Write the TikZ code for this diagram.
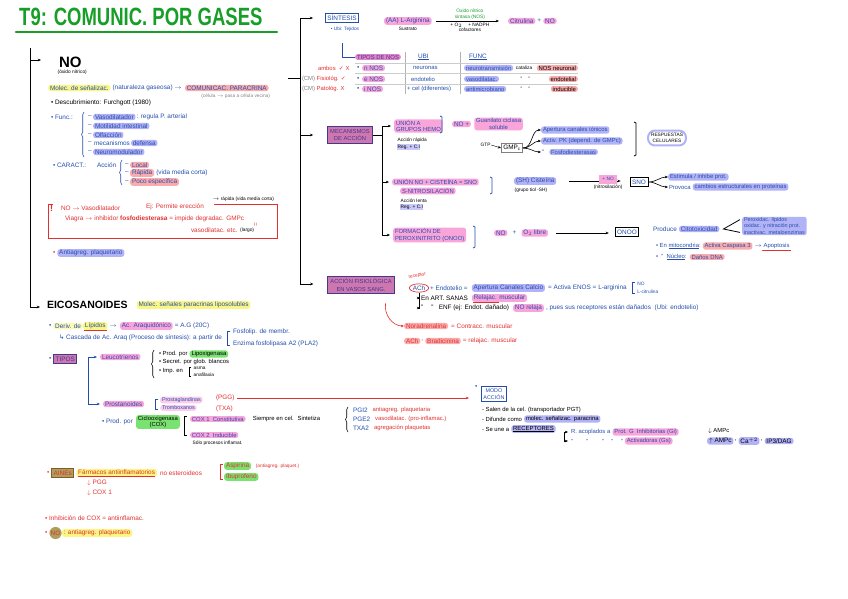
\documentclass[tikz,border=0pt]{standalone}
\usepackage{fontspec}
\setmainfont{Liberation Sans}
\newfontfamily\symf{DejaVu Sans}
\usetikzlibrary{positioning, arrows.meta, calc, decorations.pathreplacing, shapes.geometric}

\definecolor{titgreen}{RGB}{22,158,38}
\definecolor{ink}{RGB}{36,78,172}
\definecolor{inkred}{RGB}{226,48,48}
\definecolor{hpink}{RGB}{250,165,218}
\definecolor{hsalm}{RGB}{250,172,172}
\definecolor{hlav}{RGB}{178,178,246}
\definecolor{hyel}{RGB}{250,246,132}
\definecolor{hgrn}{RGB}{122,226,112}
\definecolor{hmauve}{RGB}{206,118,176}
\definecolor{hmauve2}{RGB}{226,132,204}
\definecolor{boxedge}{RGB}{66,58,138}
\definecolor{holive}{RGB}{172,160,92}

\begin{document}
\begin{tikzpicture}[x=1pt, y=-1pt,
  tx/.style={font=\fontsize{6.4}{7.2}\selectfont, inner sep=0.8pt, anchor=west, text=ink},
  tt/.style={font=\fontsize{5.9}{6.6}\selectfont},
  bk/.style={tx, text=black},
  rd/.style={tx, text=inkred},
  sm/.style={font=\fontsize{4.8}{5.6}\selectfont, inner sep=0.5pt, anchor=west, text=black},
  hl/.style={tx, fill=#1, rounded corners=2.5pt, inner xsep=1.8pt},
  hl/.default=hpink,
  bigbox/.style={draw=boxedge, line width=1pt, fill=hmauve, text=boxedge, align=center,
    font=\fontsize{5.8}{7.4}\selectfont, inner sep=2.5pt},
  tagbox/.style={draw, line width=0.8pt, font=\fontsize{6.4}{7.2}\selectfont, text=ink, inner sep=2pt},
  arr/.style={-{Stealth[length=3.2pt, width=2.6pt]}, line width=0.6pt},
  brk/.style={line width=0.7pt},
  brc/.style={decorate, decoration={brace, amplitude=2.5pt}, line width=0.6pt}
]
\useasboundingbox (0,0) rectangle (848,599);

% title
\node[anchor=west, inner sep=0, text=titgreen, font=\fontsize{18.5}{19}\selectfont\bfseries] (ttl) at (19,17) {\scalebox{1}[1.35]{T9: COMUNIC. POR GASES}};
\draw[titgreen, line width=2.4pt, line cap=round] (16,32) -- (277,32);

% left spine
\coordinate (sp0) at (30,48);
\coordinate (noin) at (41,60);
\coordinate (eiin) at (40,307);
\draw[arr] (sp0) |- (eiin);
\draw[arr] (sp0 |- noin) -- (noin);

% NO
\node[bk, font=\fontsize{15}{15}\selectfont\bfseries] (no) at (58,62) {NO};
\node[sm] (nosub) at (57,72) {(óxido nítrico)};
\node[hl=hyel] (m1) at (48,88) {Molec. de señalizac.};
\node[tx, right=1pt of m1] (m2) {(naturaleza gaseosa) $\to$};
\node[hl=hsalm, right=2pt of m2] (m3) {COMUNICAC. PARACRINA};
\node[sm, text=gray, anchor=east] (m4) at ($(m3.south east)+(2,5)$) {(célula $\to$ pasa a célula vecina)};
\node[bk] (desc) at (50,103) {• Descubrimiento: Furchgott (1980)};

\node[tx] (fn) at (50,117) {• Func.:};
\draw[brc, ink] (84,157) -- (84,112);
\node[tx] (d1) at (87,117) {–};
\node[hl=hlav] (f1) at (93,117) {Vasodilatador};
\node[tx, right=0pt of f1] (f1b) {: regula P. arterial};
\node[tx] (d2) at (87,126) {–};
\node[hl=hlav] (f2) at (93,126) {Motilidad intestinal};
\node[tx] (d3) at (87,135) {–};
\node[hl=hlav] (f3) at (93,135) {Olfacción};
\node[tx] (d4) at (87,143) {–};
\node[tx] (f4a) at (93,143) {mecanismos};
\node[hl=hlav, right=0pt of f4a] (f4) {defensa};
\node[tx] (d5) at (87,152) {–};
\node[hl=hlav] (f5) at (93,152) {Neuromodulador};

\node[tx] (ca) at (52,165) {• CARACT.:};
\node[tx] (ac) at (96,165) {Acción};
\draw[brc, ink] (122,185) -- (122,160);
\node[tx] (c1d) at (124,165) {–};
\node[hl=hsalm] (c1) at (130,165) {Local};
\node[tx] (c2d) at (124,173) {–};
\node[hl=hsalm] (c2) at (130,173) {Rápida};
\node[tx, right=1pt of c2] (c2b) {(vida media corta)};
\node[tx] (c3d) at (124,182) {–};
\node[hl=hsalm] (c3) at (130,182) {Poco específica};

% red box
\draw[inkred, line width=0.8pt] (53,204) -- (48,204) -- (48,238) -- (277,238) -- (277,204) -- (214,204);
\node[rd, font=\fontsize{9}{9}\selectfont\bfseries] (ex) at (49,208) {!};
\node[rd] (r1) at (60,208) {NO $\to$ Vasodilatador};
\node[rd] (r2) at (145,207) {Ej: Permite erección};
\node[sm] (r3) at (212,199) {$\to$ rápida (vida media corta)};
\node[rd] (r4) at (64,219) {Viagra $\to$ inhibidor \textbf{fosfodiesterasa} = impide degradac. GMPc};
\node[rd, rotate=90, anchor=center] (r5) at (256,225) {=};
\node[rd] (r6) at (190,230) {vasodilatac. etc.};
\node[sm, right=1pt of r6] (r7) {(largo)};
\node[rd] (ab) at (52,253) {•};
\node[hl=hlav, right=1pt of ab] (agp) {Antiagreg. plaquetario};

% right spine
\coordinate (rs0) at (300,20);
\coordinate (rs1) at (300,284);
\coordinate (ntick) at (288,78);
\draw (ntick) -- (ntick -| rs1);
\node[tagbox, draw=ink, anchor=center] (sint) at (342,18) {SÍNTESIS};
\node[sm, text=ink, anchor=center] (ubi) at (345,29) {• Ubi: Tejidos};
\draw[arr, shorten >=12pt] (rs1) |- (sint.west);

\node[hl=hpink] (larg) at (384,21) {(AA) L-Arginina};
\node[sm, anchor=center] (sust) at ($(larg.south)+(0,4)$) {Sustrato};
\node[hl=hpink] (citr) at (508,21) {Citrulina};
\node[tx, right=1pt of citr] (pl1) {+};
\node[hl=hpink, right=1pt of pl1] (no2) {NO};
\draw[arr, shorten <=4pt, shorten >=9pt] (larg.east) -- (larg.east -| citr.west)
  node[midway, above=1pt, sm, text=titgreen, align=center, anchor=south] (nos) {Óxido nítrico\\sintasa (NOS)}
  node[midway, below=1pt, sm, align=center, anchor=north] (cof) {+ O$_2$ \quad + NADPH\\cofactores};

% tipos de NOS
\coordinate (t0) at (342,43);
\node[hl=hmauve2, text=boxedge, tt] (tipos) at (355,57) {TIPOS DE NOS};
\draw[ink, line width=0.7pt] (t0) |- (tipos.west);
\node[tx] (hubi) at (417,57) {\underline{UBI}};
\node[tx] (hfun) at (468,57) {\underline{FUNC}};
\draw[gray!60, line width=0.5pt] (405,52) -- (405,94);
\draw[gray!60, line width=0.5pt] (460,52) -- (460,94);
\draw[gray!40, line width=0.5pt] (355,63) -- (578,63);
\draw[gray!40, line width=0.5pt] (355,73.5) -- (578,73.5);
\draw[gray!40, line width=0.5pt] (355,84) -- (578,84);

\node[rd, tt] (lk1) at (317,68) {ambos \ {\symf ✓} X};
\node[rd, tt] (lk2) at (301,79) {{\color{gray}(CM)} Fisiológ. {\symf ✓}};
\node[rd, tt] (lk3) at (301,89) {{\color{gray}(CM)} Patológ. X};
\node[tx] (b1) at (356,68) {•};
\node[hl=hpink] (n1) at (362,68) {n NOS};
\node[tx] (b2) at (356,79) {•};
\node[hl=hpink] (n2) at (362,79) {e NOS};
\node[tx] (b3) at (356,89) {•};
\node[hl=hpink] (n3) at (362,89) {i NOS};
\node[tx, tt] (u1t) at (412,68) {neuronas};
\node[tx, tt] (u2t) at (410,79) {endotelio};
\node[tx, tt] (u3t) at (406,89) {+ cel (diferentes)};
\node[hl=hlav, tt] (g1) at (464,68) {neurotransmisión};
\node[hl=hlav, tt] (g2) at (464,79) {vasodilatac.};
\node[hl=hlav, tt] (g3) at (464,89) {antimicrobiano};
\node[sm, right=2pt of g1] (k1a) {cataliza};
\node[sm] (k2a) at (520,79) {'' \quad ''};
\node[sm] (k3a) at (520,89) {'' \quad ''};
\node[hl=hsalm, text=black, tt, anchor=east] (k1) at (578,68) {NOS neuronal};
\node[hl=hsalm, text=black, tt, anchor=east] (k2) at (578,79) {endotelial};
\node[hl=hsalm, text=black, tt, anchor=east] (k3) at (578,89) {inducible};

% mecanismos de accion
\node[bigbox] (meca) at (350,135) {MECANISMOS\\DE ACCIÓN};
\draw[arr, shorten >=14pt] (rs1 |- meca.west) -- (meca.west);
\coordinate (mb) at (382,0);
\node[hl=hpink, align=left, tt] (u1) at (394,126) {UNIÓN A\\GRUPOS HEMO};
\node[hl=hpink, tt] (u2) at (392,182) {UNIÓN NO + CISTEÍNA = SNO};
\node[hl=hpink, align=left, tt] (u3) at (393,235) {FORMACIÓN DE\\PEROXINITRITO (ONOO)};
\draw[brk] (meca.east) -- (meca.east -| mb);
\draw[brk] (u1.west -| mb) -- (u3.west -| mb);
\draw[arr, shorten >=3pt] (u1.west -| mb) -- (u1.west);
\draw[arr, shorten >=3pt] (u2.west -| mb) -- (u2.west);
\draw[arr, shorten >=3pt] (u3.west -| mb) -- (u3.west);

\node[sm] (u1a) at (397,140) {Acción rápida};
\node[sm, fill=hlav!70] (u1b) at (397,147) {Reg. + C.I};
\draw[brk, ink] (440,116) -- (442,117) -- (442,132) -- (440,133);
\node[hl=hpink] (gc0) at (452,124) {NO +};
\node[hl=hpink, align=center, tt, right=3pt of gc0] (gc) {Guanilato ciclasa\\soluble};
\node[sm] (gtp) at (480,145) {GTP};
\node[draw=gray, line width=1pt, bk, anchor=center, inner sep=1.8pt] (gmpc) at (512,148) {GMP$_\mathrm{c}$};
\draw[arr, line width=0.4pt] (gtp.east) -- (gmpc.west);
\node[hl=hlav, tt] (a1) at (541,130) {Apertura canales iónicos};
\node[hl=hlav, tt] (a2) at (541,141) {Activ. PK (depend. de GMPc)};
\node[tx] (a3d) at (541,152) {''};
\node[hl=hlav, tt, right=4pt of a3d] (a3) {Fosfodiesterasas};
\draw[arr] (gmpc.east) to[out=0, in=180] (a1.west);
\draw[arr] (gmpc.east) to[out=0, in=180] (a2.west);
\draw[arr] (gmpc.east) to[out=0, in=180] (a3d.west);
\draw[brk] (634,122) -- (636,123) -- (636,155) -- (634,156);
\node[draw=hlav, line width=2pt, rounded corners=7pt, align=center, font=\fontsize{4.8}{5.6}\selectfont, inner sep=3pt] (resp) at (667,138) {RESPUESTAS\\CELULARES};

\node[hl=hpink, tt] (u2b) at (400,191) {S-NITROSILACIÓN};
\node[sm] (u2c) at (400,201) {Acción lenta};
\node[sm, fill=hlav!70] (u2d) at (400,207) {Reg. + C.I};
\draw[brk, ink] (490,177) -- (492,178) -- (492,193) -- (490,194);
\node[hl=hlav] (cis) at (514,181) {(SH) Cisteína};
\node[sm] (cis2) at (514,190) {(grupo tiol -SH)};
\node[tagbox, anchor=center] (sno) at (639,182) {SNO};
\draw[arr, shorten <=13pt, shorten >=9pt] (cis.east) -- (cis.east -| sno.west)
  node[midway, below=1pt, anchor=north, align=center, sm] (nitr) {\colorbox{hpink}{\textcolor{ink}{+ NO}}\\(nitrosilación)};
\node[hl=hlav, tt] (e1) at (668,177) {Estimula / inhibe prot.};
\node[tx, tt] (e2a) at (668,187) {Provoca};
\node[hl=hlav, tt, right=1pt of e2a] (e2) {cambios estructurales en proteínas};
\draw[arr] (sno.east) to[out=0, in=180] (e1.west);
\draw[arr] (sno.east) to[out=0, in=180] (e2a.west);

\draw[brk, ink] (473,226) -- (475,227) -- (475,247) -- (473,248);
\node[hl=hpink] (p1) at (494,233) {NO};
\node[tx, right=4pt of p1] (p2) {+};
\node[hl=hpink, right=4pt of p2] (p3) {O$_2$ libre};
\node[tagbox, anchor=center] (onoo) at (627,232) {ONOO};
\draw[arr, shorten <=8pt, shorten >=6pt] (p3.east) -- (p3.east -| onoo.west);
\node[tx] (prod) at (652,229) {Produce};
\node[hl=hlav, right=1pt of prod] (cito) {Citotoxicidad};
\node[hl=hlav, align=left, font=\fontsize{5.4}{6.4}\selectfont] (perox) at (742,226) {Peroxidac. lípidos\\oxidac. y nitración prot.\\inactivac. metaloenzimas};
\draw[line width=0.8pt] ($(perox.north west)+(-2,3)$) -- ($(cito.east)+(4,0)$) -- ($(perox.south west)+(-2,-3)$);
\node[tx, tt] (mi0) at (655,246) {• En \underline{mitocondria}:};
\node[hl=hsalm, tt, right=1pt of mi0] (casp) {Activa Caspasa 3};
\node[tx, tt, right=1pt of casp] (apo) {$\to$ Apoptosis};
\draw[inkred, line width=1.2pt, line cap=round] ($(apo.south west)+(9,1)$) -- ($(apo.south east)+(0,1)$);
\node[tx, tt] (nu0) at (655,257) {• \ '' \ \underline{Núcleo}:};
\node[hl=hsalm, tt, right=2pt of nu0] (dna) {Daños DNA};

% accion fisiologica
\node[bigbox] (acc) at (361,285) {ACCIÓN FISIOLÓGICA\\EN VASOS SANG.};
\draw[arr, shorten >=14pt] (rs1) -- (rs1 -| acc.west);
\node[tx, ellipse, draw=inkred, line width=0.7pt, inner sep=0.6pt] (ach) at (409,288) {ACh};
\node[sm, text=inkred, rotate=12] (recp) at (408,278) {receptor};
\node[tx, right=0pt of ach] (ach2) {+ Endotelio =};
\node[hl=hlav, right=3pt of ach2] (calc) {Apertura Canales Calcio};
\node[tx, right=2pt of calc] (enos) {= Activa ENOS = L-arginina};
\coordinate (bn) at ($(enos.east)+(5,0)$);
\draw[brk, ink] ($(bn)+(2,-6)$) -- ($(bn)+(0,-6)$) -- ($(bn)+(0,5)$) -- ($(bn)+(2,5)$);
\node[sm, text=ink] (nol1) at ($(bn)+(4,-4)$) {NO};
\node[sm, text=ink] (nol2) at ($(bn)+(4,4)$) {L-citrulina};
\node[bk] (sa) at (420,298) {En ART. SANAS};
\node[hl=hpink, right=3pt of sa] (rel) {Relajac. muscular};
\draw[inkred, line width=1pt] ($(rel.south west)+(1,0.3)$) -- ++(26,0);
\node[bk] (enf) at (420,308) {'' \quad '' \ \ ENF (ej: Endot. dañado)};
\node[hl=hpink, right=3pt of enf] (nore) {NO relaja};
\node[tx, right=1pt of nore] (pues) {, pues sus receptores están dañados \ (Ubi: endotelio)};
\draw[arr] (ach.south) |- (sa.west);
\draw[arr] (ach.south) |- (enf.west);

\node[hl=hsalm, text=inkred] (nora) at (404,326) {Noradrenalina};
\node[rd, right=2pt of nora] (con) {= Contracc. muscular};
\node[hl=hsalm, text=inkred] (ach3) at (404,341) {ACh};
\node[rd, right=0pt of ach3] (cmm) {,};
\node[hl=hsalm, text=inkred, right=1pt of cmm] (bra) {Bradicinina};
\node[rd, right=1pt of bra] (relm) {= relajac. muscular};
\draw[arr, inkred] ($(acc.south east)+(-9,9)$) to[out=-100, in=180] (nora.west);

% eicosanoides
\node[bk, font=\fontsize{10.5}{11}\selectfont\bfseries] (eico) at (46,305) {EICOSANOIDES};
\node[hl=hyel, right=8pt of eico] (molec) {Molec. señales paracrinas liposolubles};
\node[tx] (db) at (48,326) {•};
\node[hl=hyel!60, right=1pt of db] (der) {Deriv. de};
\node[hl=hyel, right=0pt of der] (lip) {Lípidos};
\draw[inkred, line width=0.8pt] ($(lip.south west)+(1,0.3)$) -- ($(lip.south east)+(-1,0.3)$);
\node[tx, right=1pt of lip] (ar1) {$\to$};
\node[hl=hpink, right=2pt of ar1] (aa) {Ac. Araquidónico};
\node[tx, right=1pt of aa] (agc) {= A.G (20C)};
\node[tx] (casc) at (58,338) {{\symf ↳} Cascada de Ac. Araq (Proceso de síntesis): a partir de};
\coordinate (bc) at ($(casc.east)+(4,0)$);
\draw[brk, ink] ($(bc)+(3,-7)$) -- ($(bc)+(0,-7)$) -- ($(bc)+(0,7)$) -- ($(bc)+(3,7)$);
\node[tx] (fos1) at ($(bc)+(5,-6)$) {Fosfolip. de membr.};
\node[tx] (fos2) at ($(bc)+(5,6)$) {Enzima fosfolipasa A2 (PLA2)};

\node[tx] (tb) at (48,359) {•};
\node[tagbox, draw=boxedge, fill=hmauve, text=boxedge, right=1pt of tb] (tipos2) {TIPOS};
\coordinate (tx0) at (88,0);
\node[hl=hpink] (leu) at (100,357) {Leucotrienos};
\node[hl=hpink] (pro) at (103,404) {Prostanoides};
\draw[arr, ink, shorten >=3pt] (tx0 |- pro.west) |- (leu.west);
\draw[arr, ink, shorten >=3pt] (tx0 |- leu.west) |- (pro.west);

\draw[brc] (154,378) -- (154,350);
\node[bk, tt] (l1) at (158,354) {• Prod. por};
\node[hl=hgrn, text=black, tt, right=1pt of l1] (lipo) {Lipoxigenasa};
\node[bk, tt] (l2) at (158,362) {• Secret. por glob. blancos};
\node[bk, tt] (l3) at (158,371) {• Imp. en};
\draw[brk] (191,367) -- (189,367) -- (189,376) -- (191,376);
\node[sm] (l4) at (193,368) {asma};
\node[sm] (l5) at (193,375) {anafilaxia};

\draw[brk, ink] (158,399) -- (155,399) -- (155,409) -- (158,409);
\node[hl=hpink!55, font=\fontsize{5.4}{6}\selectfont] (pgl) at (160,400) {Prostaglandinas};
\node[hl=hpink!55, font=\fontsize{5.4}{6}\selectfont] (txn) at (160,408) {Tromboxanos};
\node[rd] (pgg) at (215,398) {(PGG)};
\node[rd] (txa) at (215,409) {(TXA)};
\node[tagbox, draw=ink, align=center, font=\fontsize{5.4}{6.4}\selectfont, anchor=west] (modo) at (481,394) {MODO\\ACCIÓN};
\node[tx] (mdb) at (474,387) {•};
\draw[arr, inkred, shorten <=2pt, shorten >=12pt] (pgg.east) -- (pgg.east -| modo.west);

\node[bk, tt] (mo1) at (481,410) {- Salen de la cel. (transportador PGT)};
\node[bk, tt] (mo2) at (481,419) {- Difunde como};
\node[hl=hlav, text=black, tt, right=1pt of mo2] (mo2b) {molec. señalizac. paracrina};
\node[bk, tt] (mo3) at (481,429) {- Se une a};
\node[hl=hlav, text=black, tt, right=1pt of mo3] (mo3b) {\underline{RECEPTORES}};
\coordinate (rx0) at (564,0);
\node[tx, tt] (rc1) at (570,432) {R. acoplados a};
\node[hl=hpink, tt, right=1pt of rc1] (rc1b) {Prot. G \ Inhibitorias (Gi)};
\node[tx, tt] (rc2) at (570,441) {'' \qquad '' \qquad '' \quad '' \quad ''};
\node[hl=hpink, tt, right=1pt of rc2] (rc2b) {Activadoras (Gs)};
\draw[arr, shorten >=2pt] (rx0 |- rc2.west) |- (rc1.west);
\draw[arr, shorten >=2pt] (rx0 |- rc1.west) |- (rc2.west);
\node[bk, tt] (amp1) at (707,431) {$\downarrow$ AMPc};
\node[hl=hlav, text=black] (amp2) at (707,441) {$\uparrow$ AMPc};
\node[bk, right=0pt of amp2] (cm1) {,};
\node[hl=hlav, text=black, right=1pt of cm1] (caa) {Ca$^{+2}$};
\node[bk, right=0pt of caa] (cm2) {,};
\node[hl=hlav, text=black, right=1pt of cm2] (ipd) {IP3/DAG};

\node[tx] (cx0) at (101,422) {• Prod. por};
\node[hl=hgrn, align=center, text=black, tt, right=2pt of cx0] (cox) {Ciclooxigenasa\\(COX)};
\coordinate (bx) at ($(cox.east)+(4,0)$);
\draw[brk] ($(bx)+(3,-6)$) -- ($(bx)+(0,-6)$) -- ($(bx)+(0,13)$) -- ($(bx)+(3,13)$);
\node[hl=hpink, tt] (cx1) at ($(bx)+(6,-3)$) {COX 1 \ Constitutiva};
\node[bk, tt, right=6pt of cx1] (siem) {Siempre en cel. \ Sintetiza};
\draw[brc] (348,432) -- (348,407);
\node[tx] (pgi) at (352,410) {PGI2};
\node[rd, tt, right=3pt of pgi] (pgi2) {antiagreg. plaquetaria};
\node[tx] (pge) at (352,419) {PGE2};
\node[rd, tt, right=3pt of pge] (pge2) {vasodilatac. (pro-inflamac.)};
\node[tx] (txb) at (352,428) {TXA2};
\node[rd, tt, right=3pt of txb] (txb2) {agregación plaquetas};
\node[hl=hpink, tt] (cx2) at ($(bx)+(6,13)$) {COX 2 \ Inducible};
\node[sm] (cx3) at ($(bx)+(8,21)$) {Sólo procesos inflamat.};

% aines
\node[rd] (ai0) at (46,473) {•};
\node[tagbox, draw=brown!70!black, fill=holive, text=inkred, right=1pt of ai0] (aine) {AINEs};
\node[hl=hyel, text=inkred, right=2pt of aine] (farm) {\underline{Fármacos antiinflamatorios}};
\node[rd, right=2pt of farm] (noes) {no esteroideos};
\node[rd] (pgg2) at (86,483) {$\downarrow$ PGG};
\node[rd] (cxb) at (86,493) {$\downarrow$ COX 1};
\draw[brk, inkred] (223,464) -- (220,464) -- (220,479) -- (223,479);
\node[hl=hgrn, text=inkred] (asp) at (224,466) {Aspirina};
\node[hl=hgrn, text=inkred] (ibu) at (224,477) {Ibuprofeno};
\node[sm, text=inkred, right=4pt of asp] (antp) {(antiagreg. plaquet.)};

\node[rd] (inh) at (44,518) {• Inhibición de COX = antiinflamac.};
\node[rd] (nb) at (44,533) {•};
\node[tx, circle, fill=holive, text=inkred, inner sep=0.6pt, right=1pt of nb] (nocirc) {NO};
\node[hl=hyel, text=inkred, right=0pt of nocirc] (nop) {: antiagreg. plaquetario};
\end{tikzpicture}
\end{document}
